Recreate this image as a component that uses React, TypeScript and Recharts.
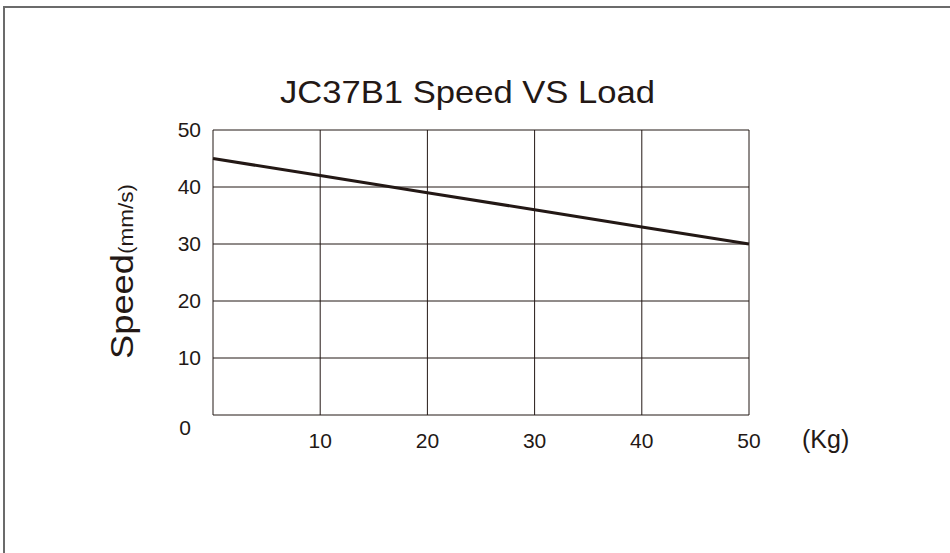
import { CartesianGrid, Label, Line, LineChart, XAxis, YAxis } from "recharts";

const loads = [0, 10, 20, 30, 40, 50];
const speeds = [45, 42, 39, 36, 33, 30];
const xTicks = [0, 10, 20, 30, 40, 50];
const yTicks = [0, 10, 20, 30, 40, 50];

const INK = "#231815";
const FONT = '"Liberation Sans", Arial, Helvetica, sans-serif';

const data = loads.map((load, i) => ({ load, speed: speeds[i] }));

function XTick(props: any) {
  const { x, y, payload } = props;
  if (payload.value === 0) return null;
  return (
    <text x={x} y={y} dy={33} textAnchor="middle" fill={INK} fontSize={21} fontFamily={FONT}>
      {payload.value}
    </text>
  );
}

function YTick(props: any) {
  const { x, y, payload } = props;
  if (payload.value === 0) {
    // origin label sits below-left of the corner
    return (
      <text x={x - 28} y={y} dy={20} textAnchor="middle" fill={INK} fontSize={21} fontFamily={FONT}>
        0
      </text>
    );
  }
  return (
    <text x={x - 12} y={y} dy={7} textAnchor="end" fill={INK} fontSize={21} fontFamily={FONT}>
      {payload.value}
    </text>
  );
}

function KgLabel(props: any) {
  const vb = props.viewBox ?? { x: 213, y: 415, width: 536 };
  return (
    <text x={vb.x + vb.width + 53} y={vb.y + 33} fill={INK} fontSize={25} fontFamily={FONT}>
      (Kg)
    </text>
  );
}

function TitleLabel() {
  return (
    <g>
      {/* frame of the scanned page */}
      <path d="M4 560 V7 H960" fill="none" stroke="#6b6b6b" strokeWidth={2} />
      <text
        x={280}
        y={103}
        fill={INK}
        fontSize={32}
        fontFamily={FONT}
        textLength={375}
        lengthAdjust="spacingAndGlyphs"
      >
        JC37B1 Speed VS Load
      </text>
    </g>
  );
}

function SpeedLabel() {
  return (
    <text x={133} y={359} transform="rotate(-90 133 359)" fill={INK} fontFamily={FONT}>
      <tspan fontSize={31} textLength={105} lengthAdjust="spacingAndGlyphs">
        Speed
      </tspan>
      <tspan fontSize={21} textLength={70} lengthAdjust="spacingAndGlyphs">
        (mm/s)
      </tspan>
    </text>
  );
}

export default function App() {
  return (
    <div
      style={{
        position: "relative",
        width: 950,
        height: 553,
        background: "#fff",
        overflow: "hidden",
        fontFamily: FONT,
      }}
    >
      <style>{"body{margin:0}"}</style>
      <LineChart
        width={950}
        height={553}
        data={data}
        margin={{ top: 130, right: 201, bottom: 98, left: 0 }}
      >
        <CartesianGrid stroke={INK} strokeWidth={1} />
        <XAxis
          dataKey="load"
          type="number"
          domain={[0, 50]}
          ticks={xTicks}
          height={40}
          axisLine={false}
          tickLine={false}
          tickSize={0}
          tickMargin={0}
          tick={<XTick />}
          interval={0}
        >
          <Label content={<KgLabel />} />
          <Label content={<TitleLabel />} />
        </XAxis>
        <YAxis
          type="number"
          domain={[0, 50]}
          ticks={yTicks}
          width={213}
          axisLine={false}
          tickLine={false}
          tickSize={0}
          tickMargin={0}
          tick={<YTick />}
          interval={0}
          label={<SpeedLabel />}
        />
        <Line dataKey="speed" stroke={INK} strokeWidth={3} dot={false} isAnimationActive={false} />
      </LineChart>
    </div>
  );
}
